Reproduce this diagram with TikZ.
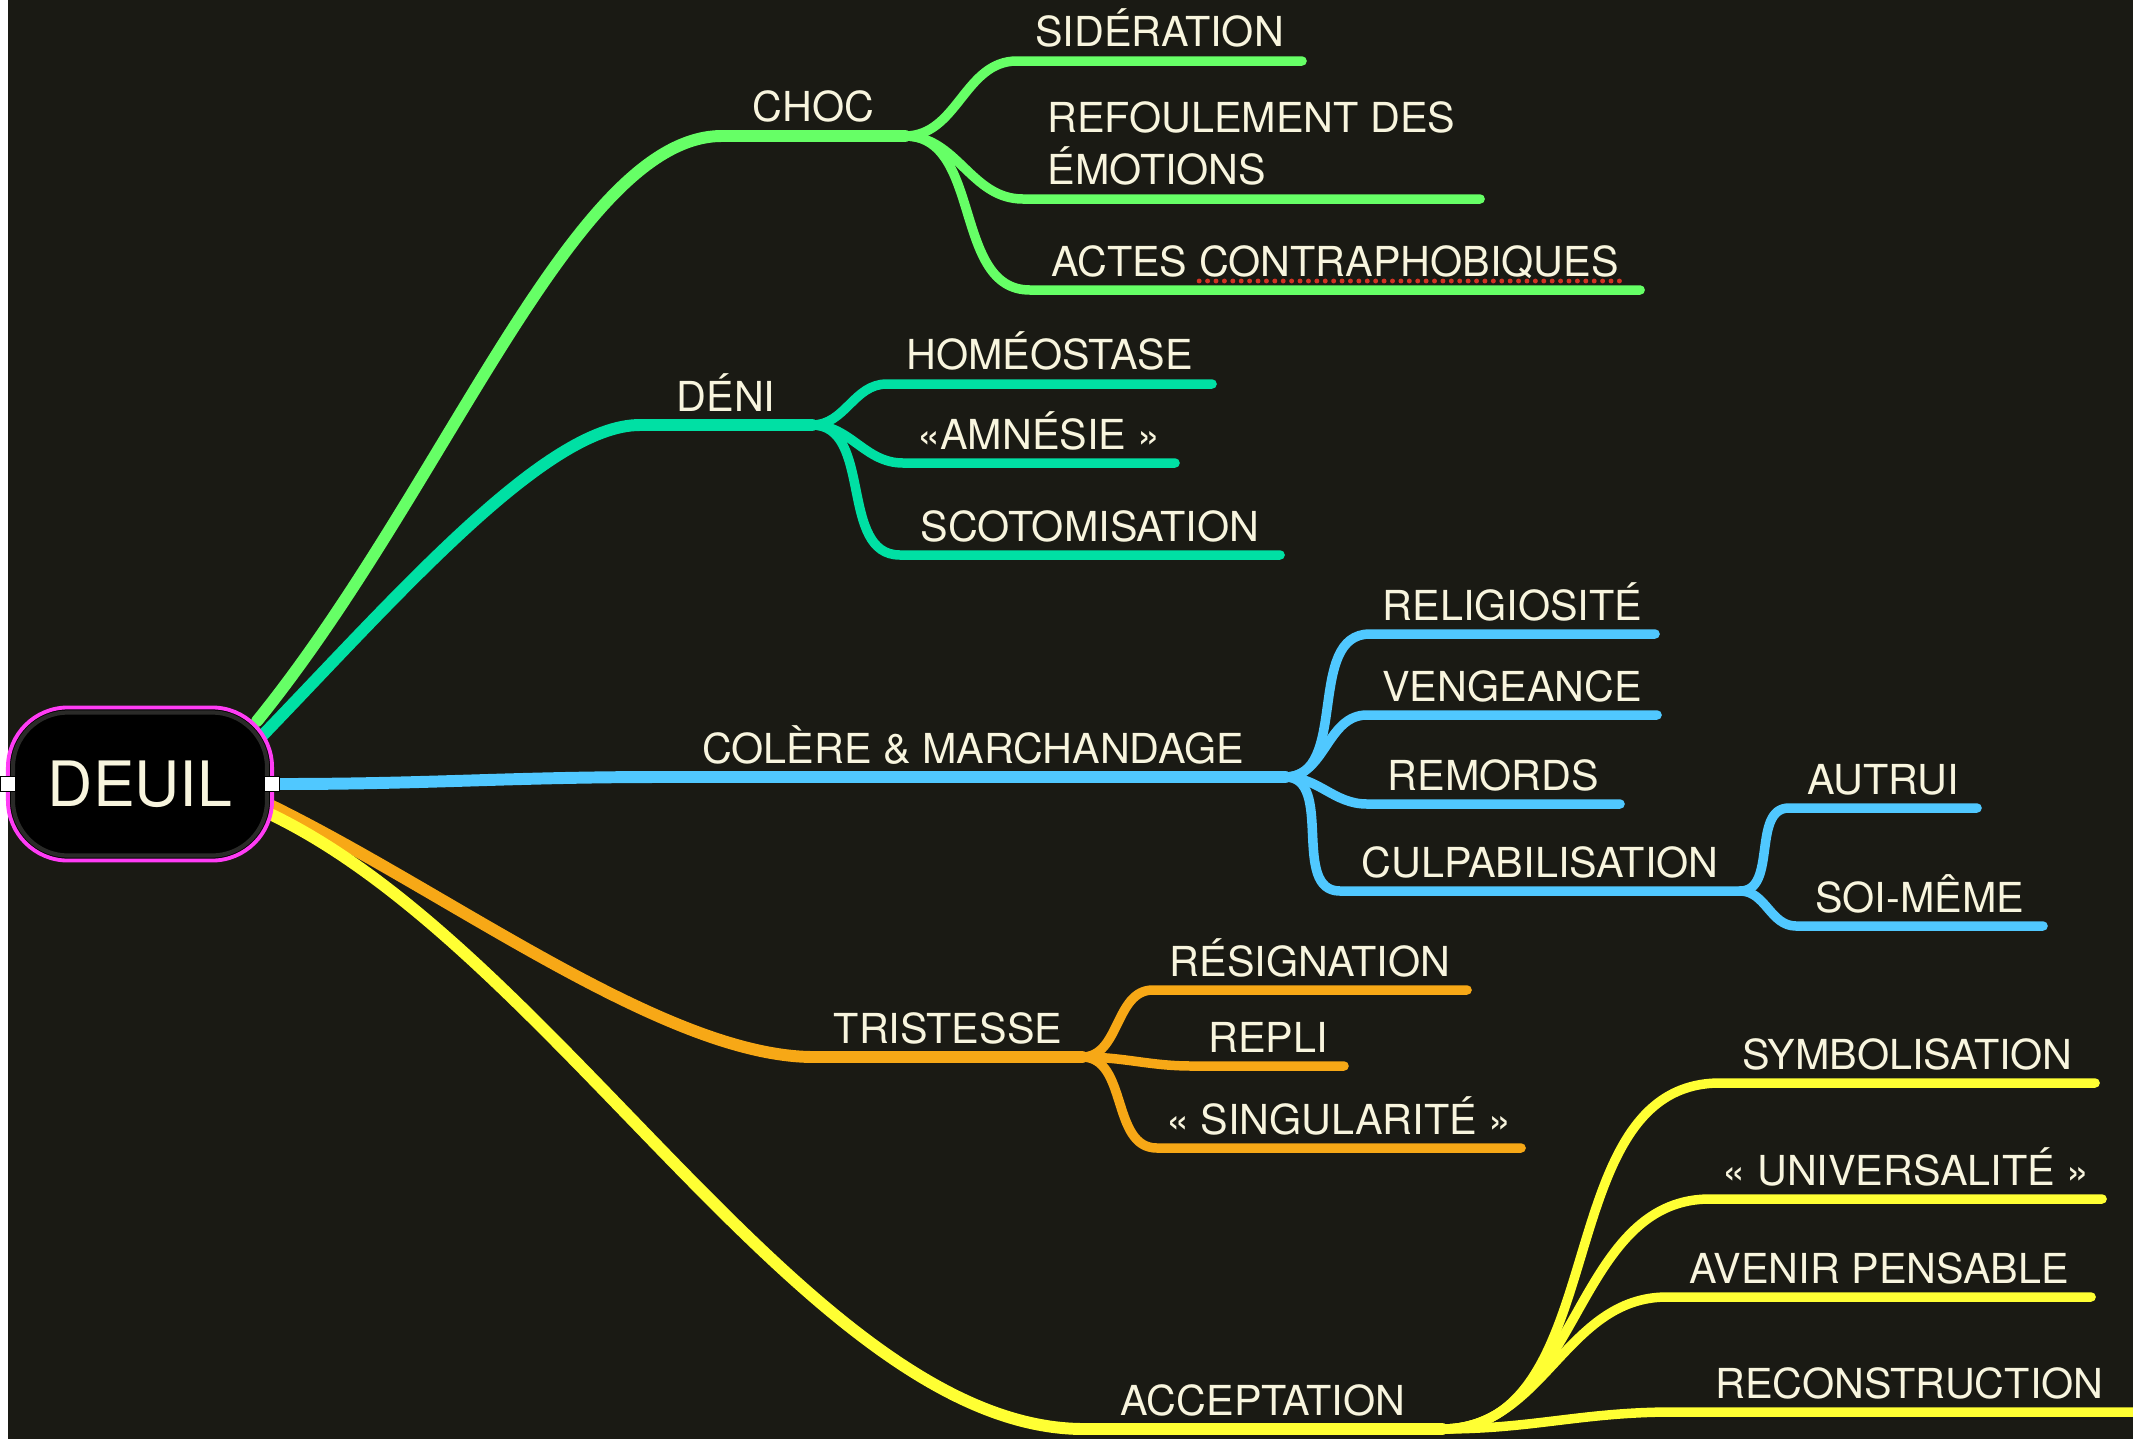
\documentclass[tikz,border=0pt]{standalone}
\usepackage{fontspec}
\setmainfont{TeX Gyre Heros}
\usepackage{tikz}
\usetikzlibrary{backgrounds}

\definecolor{bgdark}{HTML}{1A1A14}
\definecolor{labeltext}{HTML}{F8F5DE}
\definecolor{rootpink}{HTML}{FF3CF5}
\definecolor{ringgray}{HTML}{2A2A28}
\definecolor{chocgreen}{HTML}{66FF66}
\definecolor{denigreen}{HTML}{00E0A4}
\definecolor{colereblue}{HTML}{50C8FF}
\definecolor{tristorange}{HTML}{F7A816}
\definecolor{accyellow}{HTML}{FFFF33}
\definecolor{spellred}{HTML}{D03222}

\begin{document}
\begin{tikzpicture}[x=0.01cm, y=-0.01cm]
	\tikzstyle{rootbox}=[draw=rootpink, line width=1.1pt, fill=black, rounded corners=0.6cm, minimum width=2.64cm, minimum height=1.53cm, inner sep=0pt, outer sep=0pt, text=labeltext, font=\fontsize{17.8pt}{20pt}\selectfont]
	\tikzstyle{grip}=[draw=black, fill=white, line width=0.4pt, minimum size=0.15cm, inner sep=0pt]
	\tikzstyle{topic}=[anchor=south, text=labeltext, font=\fontsize{11.75pt}{14.8pt}\selectfont, inner xsep=0pt, inner ysep=0.14cm, outer sep=0pt, text depth=0pt]
	\tikzstyle{trunk}=[line width=3.4pt, line cap=round, line join=round]
	\tikzstyle{twig}=[line width=2.7pt, line cap=round, line join=round]
	\useasboundingbox (0,0) rectangle (2133,1439);
	\node [rootbox] (deuil) at (140,784) {DEUIL};
	\draw [ringgray, line width=1.2pt, rounded corners=0.55cm] ([shift={(5,5)}]deuil.north west) rectangle ([shift={(-5,-5)}]deuil.south east);
	\node [grip] (gripl) at (deuil.west) {};
	\node [grip] (gripr) at (deuil.east) {};
	\node [topic, minimum width=1.83cm] (choc) at (813.5,136) {CHOC};
	\node [topic, minimum width=2.85cm] (sideration) at (1159.5,61) {SIDÉRATION};
	\node [topic, minimum width=4.57cm, align=left] (refoulement) at (1251.5,199) {REFOULEMENT DES\\ÉMOTIONS};
	\node [topic, minimum width=6.10cm] (actes) at (1335,290) {ACTES CONTRAPHOBIQUES};
	\node [topic, minimum width=1.72cm] (deni) at (726,425) {DÉNI};
	\node [topic, minimum width=3.25cm] (homeostase) at (1049.5,384) {HOMÉOSTASE};
	\node [topic, minimum width=2.72cm] (amnesie) at (1039,463) {«AMNÉSIE »};
	\node [topic, minimum width=3.80cm] (scotomisation) at (1090,555) {SCOTOMISATION};
	\node [topic, minimum width=6.24cm] (colere) at (973,777) {COLÈRE \& MARCHANDAGE};
	\node [topic, minimum width=2.85cm] (religiosite) at (1512.5,634) {RELIGIOSITÉ};
	\node [topic, minimum width=2.90cm] (vengeance) at (1512,715) {VENGEANCE};
	\node [topic, minimum width=2.53cm] (remords) at (1493.5,804) {REMORDS};
	\node [topic, minimum width=4.00cm] (culpabilisation) at (1540,891) {CULPABILISATION};
	\node [topic, minimum width=1.88cm] (autrui) at (1883,808) {AUTRUI};
	\node [topic, minimum width=2.47cm] (soimeme) at (1919.5,926) {SOI-MÊME};
	\node [topic, minimum width=2.68cm] (tristesse) at (948,1057) {TRISTESSE};
	\node [topic, minimum width=3.14cm] (resignation) at (1310,990) {RÉSIGNATION};
	\node [topic, minimum width=1.52cm] (repli) at (1268,1066) {REPLI};
	\node [topic, minimum width=3.64cm] (singularite) at (1339,1148) {« SINGULARITÉ »};
	\node [topic, minimum width=3.58cm] (acceptation) at (1263,1429) {ACCEPTATION};
	\node [topic, minimum width=3.75cm] (symbolisation) at (1907.5,1083) {SYMBOLISATION};
	\node [topic, minimum width=3.92cm] (universalite) at (1906,1199) {« UNIVERSALITÉ »};
	\node [topic, minimum width=4.24cm] (avenir) at (1879,1297) {AVENIR PENSABLE};
	\node [topic, minimum width=4.73cm] (reconstruction) at (1909.5,1412) {RECONSTRUCTION};
	\draw [spellred, line width=1.4pt, line cap=round, dash pattern=on 0pt off 2.39pt] ([shift={(-441,-9)}]actes.south east) -- ([shift={(-17,-9)}]actes.south east);
	\begin{scope}[on background layer]
		\fill [bgdark] (0,0) rectangle (2133,1439);
		\fill [white] (0,0) rectangle (8,1439);
		\draw [trunk, chocgreen] ([shift={(-15,-63)}]deuil.east) .. controls +(189,-233) and +(-148,0) .. (choc.south west) -- (choc.south east);
		\draw [trunk, denigreen] ([shift={(-12,-46)}]deuil.east) .. controls +(139,-144) and +(-94,0) .. (deni.south west) -- (deni.south east);
		\draw [trunk, colereblue] (gripr.east) .. controls +(150,0) and +(-150,0) .. (colere.south west) -- (colere.south east);
		\draw [trunk, tristorange] ([shift={(-2,21)}]deuil.east) .. controls +(180,88) and +(-148,0) .. (tristesse.south west) -- (tristesse.south east);
		\draw [trunk, accyellow] ([shift={(-2,30)}]deuil.east) .. controls +(288,138) and +(-269,0) .. (acceptation.south west) -- (acceptation.south east);
		\draw [twig, chocgreen] (choc.south east) to[out=0,in=180] (sideration.south west) -- (sideration.south east);
		\draw [twig, chocgreen] (choc.south east) to[out=0,in=180] (refoulement.south west) -- (refoulement.south east);
		\draw [twig, chocgreen] (choc.south east) to[out=0,in=180] (actes.south west) -- (actes.south east);
		\draw [twig, denigreen] (deni.south east) to[out=0,in=180] (homeostase.south west) -- (homeostase.south east);
		\draw [twig, denigreen] (deni.south east) to[out=0,in=180] (amnesie.south west) -- (amnesie.south east);
		\draw [twig, denigreen] (deni.south east) to[out=0,in=180] (scotomisation.south west) -- (scotomisation.south east);
		\draw [twig, colereblue] (colere.south east) to[out=0,in=180] (religiosite.south west) -- (religiosite.south east);
		\draw [twig, colereblue] (colere.south east) to[out=0,in=180] (vengeance.south west) -- (vengeance.south east);
		\draw [twig, colereblue] (colere.south east) to[out=0,in=180] (remords.south west) -- (remords.south east);
		\draw [twig, colereblue] (colere.south east) to[out=0,in=180] (culpabilisation.south west) -- (culpabilisation.south east);
		\draw [twig, colereblue] (culpabilisation.south east) to[out=0,in=180] (autrui.south west) -- (autrui.south east);
		\draw [twig, colereblue] (culpabilisation.south east) to[out=0,in=180] (soimeme.south west) -- (soimeme.south east);
		\draw [twig, tristorange] (tristesse.south east) to[out=0,in=180] (resignation.south west) -- (resignation.south east);
		\draw [twig, tristorange] (tristesse.south east) to[out=0,in=180] (repli.south west) -- (repli.south east);
		\draw [twig, tristorange] (tristesse.south east) to[out=0,in=180] (singularite.south west) -- (singularite.south east);
		\draw [twig, accyellow] (acceptation.south east) to[out=0,in=180] (symbolisation.south west) -- (symbolisation.south east);
		\draw [twig, accyellow] (acceptation.south east) to[out=0,in=180] (universalite.south west) -- (universalite.south east);
		\draw [twig, accyellow] (acceptation.south east) to[out=0,in=180] (avenir.south west) -- (avenir.south east);
		\draw [twig, accyellow] (acceptation.south east) to[out=0,in=180] (reconstruction.south west) -- (reconstruction.south east);
	\end{scope}
\end{tikzpicture}
\end{document}
